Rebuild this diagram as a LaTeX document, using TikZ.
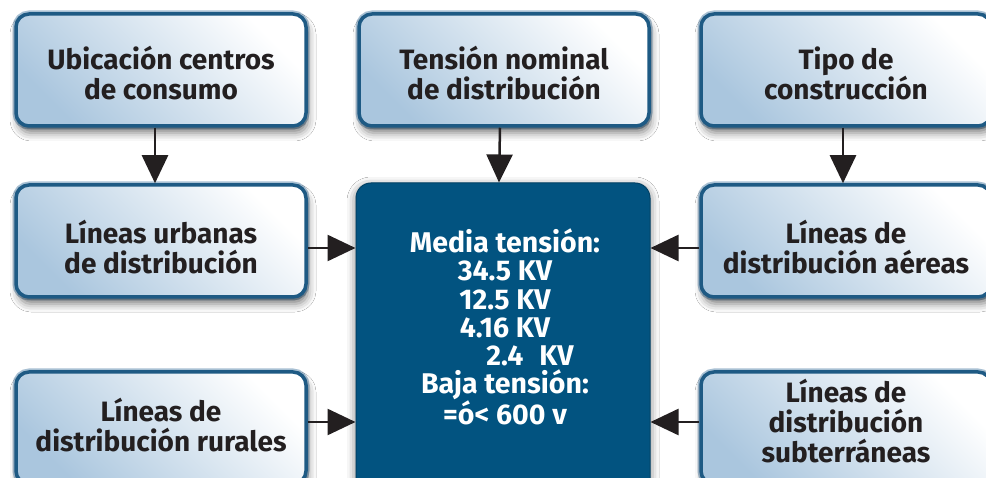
\documentclass[tikz,border=0pt]{standalone}
\usepackage{fontspec}
\setmainfont{Fira Sans}
\usetikzlibrary{arrows.meta,shadows.blur}
\definecolor{boxblue}{RGB}{170,198,222}
\definecolor{edgeblue}{RGB}{30,90,132}
\definecolor{glowblue}{RGB}{110,150,182}
\definecolor{coreblue}{RGB}{2,83,128}
\definecolor{ink}{RGB}{35,31,32}
\tikzset{
  lightbox/.style={draw=edgeblue, line width=3.5pt, rounded corners=13pt,
    preaction={draw=glowblue, line width=7pt, draw opacity=0.6},
    left color=boxblue, right color=white, shading angle=135,
    minimum width=290pt, minimum height=112pt, inner sep=0pt,
    blur shadow={shadow xshift=2pt, shadow yshift=-7pt, shadow blur radius=8pt, shadow opacity=50}},
  corebox/.style={fill=coreblue, draw=coreblue!80!black, line width=1pt, rounded corners=15pt,
    minimum width=294pt, minimum height=312pt, inner sep=0pt,
    blur shadow={shadow xshift=0pt, shadow yshift=-3pt, shadow blur radius=9pt, shadow opacity=55}},
  label/.style={align=center, text=ink, font=\bfseries\fontsize{28}{30}\selectfont},
  corelabel/.style={align=center, text=white, font=\bfseries\fontsize{28.5}{28.2}\selectfont},
  link/.style={draw=ink, line width=2.5pt, -{Triangle[length=28pt,width=26pt]}}
}
\begin{document}
\begin{tikzpicture}[x=1pt,y=-1pt]
\useasboundingbox (0,0) rectangle (986,478);
\fill[white] (0,0) rectangle (986,478);
\clip (0,0) rectangle (986,478);
% boxes
\node[lightbox] (tl) at (161,70) {};
\node[lightbox] (tm) at (504,70) {};
\node[lightbox] (tr) at (846,70) {};
\node[lightbox] (ml) at (161,241) {};
\node[lightbox] (mr) at (846,241) {};
\node[lightbox] (bl) at (161,428) {};
\node[lightbox] (br) at (846,428) {};
\node[corebox] (c) at (503,339) {};
% texts
\node[label] (tlt) at (161,73) {Ubicación centros\\de consumo};
\node[label] (tmt) at (504,73) {Tensión nominal\\de distribución};
\node[label] (trt) at (846,73) {Tipo de\\construcción};
\node[label] (mlt) at (161,247) {Líneas urbanas\\de distribución};
\node[label] (mrt) at (846,247) {Líneas de\\distribución aéreas};
\node[label] (blt) at (161,425) {Líneas de\\distribución rurales};
\node[label] (brt) at (846,421) {Líneas de\\distribución\\subterráneas};
\node[corelabel] (ct) at (505,327) {Media tensión:\\34.5 KV\\12.5 KV\\4.16 KV\\\hspace*{50pt}2.4\hspace{16pt}KV\\Baja tensión:\\=ó< 600 v};
% connectors
\draw[link] ([xshift=-6pt]tl.south) -- ([xshift=-6pt]ml.north);
\draw[link] ([xshift=-4pt]tm.south) -- ([xshift=-4pt]c.north);
\draw[link] ([xshift=-3pt]tr.south) -- ([xshift=-3pt]mr.north);
\draw[link] ([yshift=-7pt]ml.east) -- ([yshift=-7pt]c.west |- ml.east);
\draw[link] ([yshift=-7pt]mr.west) -- ([yshift=-7pt]c.east |- mr.east);
\draw[link] ([yshift=3pt]bl.east |- blt.center) -- ([yshift=3pt]c.west |- blt.center);
\draw[link] ([yshift=-1pt]br.west |- brt.center) -- ([yshift=-1pt]c.east |- brt.center);
\end{tikzpicture}
\end{document}
